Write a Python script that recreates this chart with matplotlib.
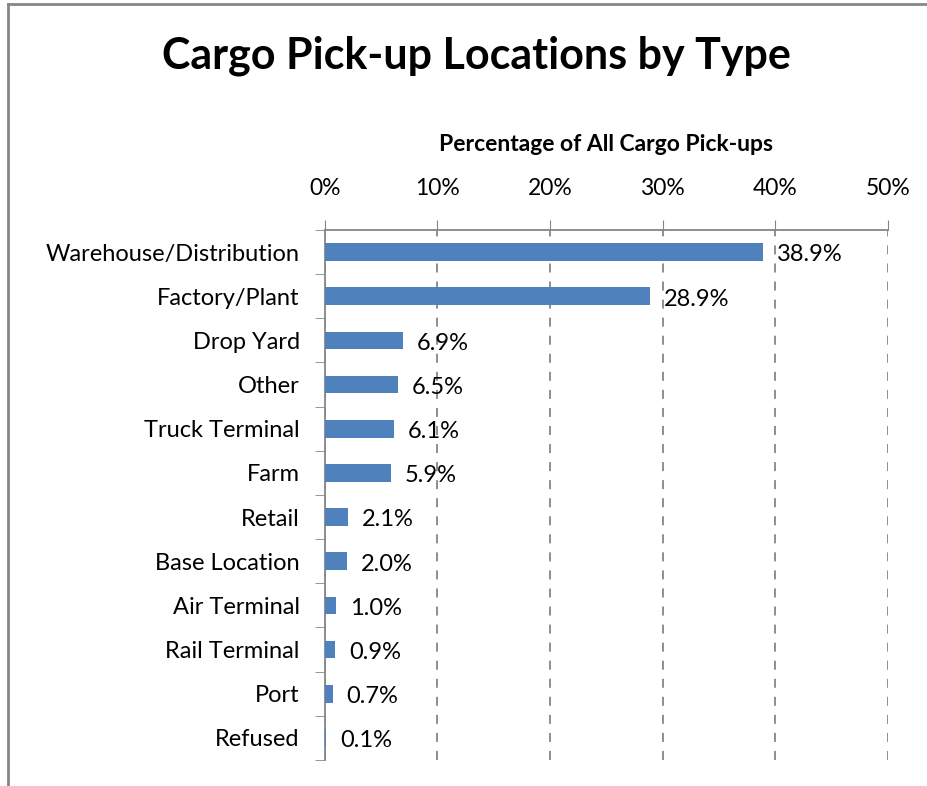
import matplotlib.pyplot as plt
from matplotlib.lines import Line2D
import numpy as np

# data
categories = ['Warehouse/Distribution', 'Factory/Plant', 'Drop Yard', 'Other',
              'Truck Terminal', 'Farm', 'Retail', 'Base Location',
              'Air Terminal', 'Rail Terminal', 'Port', 'Refused']
values = [38.9, 28.9, 6.9, 6.5, 6.1, 5.9, 2.1, 2.0, 1.0, 0.9, 0.7, 0.1]
xticks = [0, 10, 20, 30, 40, 50]

plt.rcParams['font.family'] = ['Lato', 'DejaVu Sans']

barColor = '#4F81BD'
lineColor = '#868686'

fig = plt.figure(figsize=(9.28, 7.86), dpi=100)
ax = fig.add_axes([0.350, 0.0331, 0.607, 0.6743])

y = np.arange(len(categories))
ax.barh(y, values, height=0.4, color=barColor, zorder=3)

# data labels
for yi, v in zip(y, values):
    ax.annotate(f'{v:.1f}%', (v, yi), xytext=(10, -2), textcoords='offset points',
                va='center', ha='left', fontsize=17)

ax.set_xlim(0, 50)
ax.set_ylim(len(categories) - 0.5, -0.5)
ax.set_xticks(xticks)
ax.set_xticklabels([f'{t}%' for t in xticks], fontsize=16.5)
ax.xaxis.tick_top()
ax.xaxis.set_label_position('top')
ax.tick_params(axis='x', direction='out', length=7, color=lineColor, pad=15)

ax.set_yticks(y)
ax.set_yticklabels(categories, fontsize=17)
ax.tick_params(axis='y', length=0, pad=18)
# ticks at category boundaries
ax.set_yticks(np.arange(-0.5, len(categories), 1), minor=True)
ax.tick_params(axis='y', which='minor', length=7, color=lineColor)

ax.set_xlabel('Percentage of All Cargo Pick-ups', fontsize=16.5, fontweight='bold', labelpad=20)

# axis style
ax.spines['bottom'].set_visible(False)
ax.spines['right'].set_visible(False)
ax.spines['top'].set_color(lineColor)
ax.spines['left'].set_color(lineColor)
ax.spines['top'].set_linewidth(1.3)
ax.spines['left'].set_linewidth(1.3)
ax.set_axisbelow(True)
ax.xaxis.grid(True, color=lineColor, linestyle=(0, (5, 5)), linewidth=1.3)
ax.yaxis.grid(False)

fig.text(0.513, 0.929, 'Cargo Pick-up Locations by Type', ha='center', va='center',
         fontsize=31, fontweight='bold')

# outer border (left and top only)
fig.add_artist(Line2D([0.0085, 0.0085], [0, 0.995], transform=fig.transFigure,
                      color=lineColor, linewidth=2))
fig.add_artist(Line2D([0.0085, 1], [0.995, 0.995], transform=fig.transFigure,
                      color=lineColor, linewidth=2))

fig.savefig('out.png', dpi=100)
